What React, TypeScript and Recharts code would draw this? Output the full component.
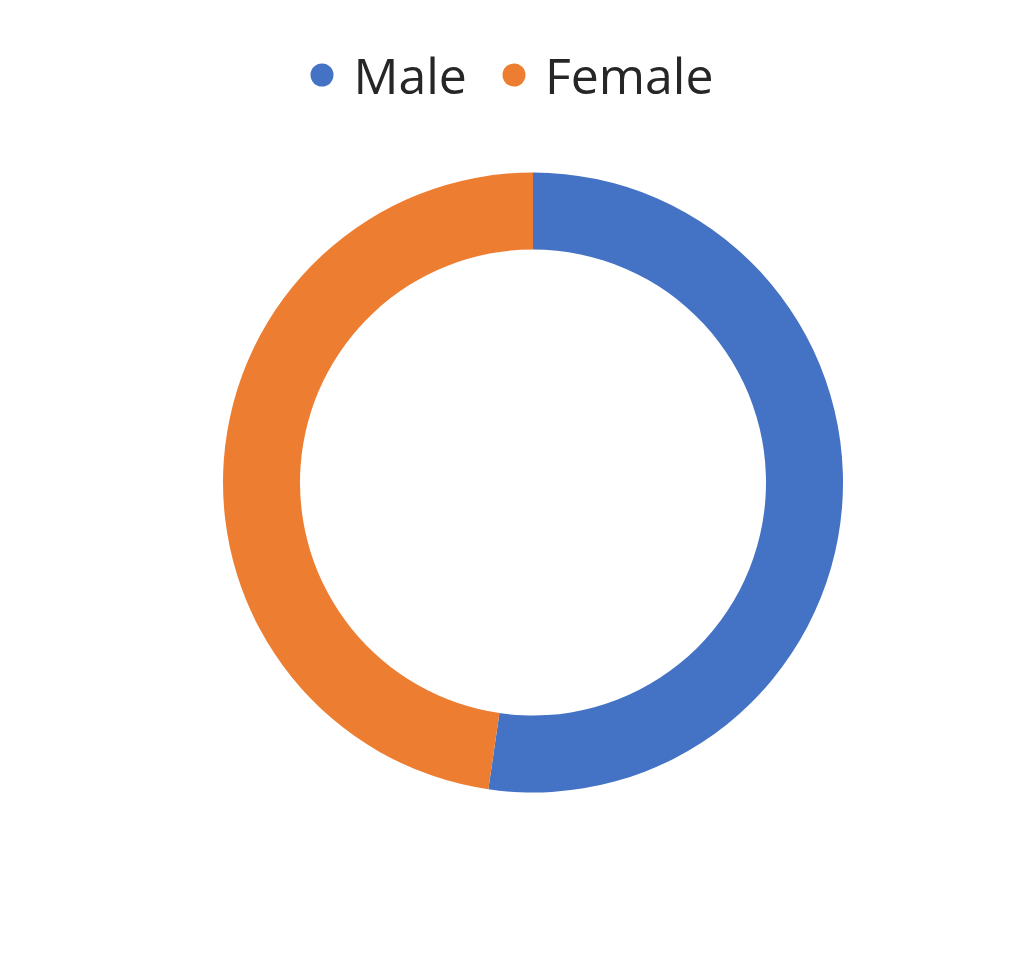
import React from "react";
import { PieChart, Pie, Cell, Legend } from "recharts";

const categories = ["Male", "Female"];
const values = [52.3, 47.7];
const colors = ["#4472C4", "#ED7D31"];

const data = categories.map((name, i) => ({ name, value: values[i] }));

const renderLegend = () => (
  <div
    style={{
      display: "flex",
      justifyContent: "center",
      alignItems: "center",
      fontFamily: "'Open Sans', sans-serif",
      fontSize: 50,
      color: "#262626",
      lineHeight: "70px",
    }}
  >
    {data.map((d, i) => (
      <div key={d.name} style={{ display: "flex", alignItems: "center", marginRight: i === 0 ? 35 : 0 }}>
        <svg width={24} height={24} style={{ marginRight: 19 }}>
          <circle cx={12} cy={12} r={11.5} fill={colors[i]} />
        </svg>
        <span>{d.name}</span>
      </div>
    ))}
  </div>
);

export default function App() {
  return (
    <div style={{ position: "absolute", left: 0, top: 0, background: "#fff" }}>
      <PieChart width={1024} height={956}>
        <Legend
          verticalAlign="top"
          content={renderLegend}
          wrapperStyle={{ position: "absolute", top: 40, left: 0, width: 1024 }}
        />
        <Pie
          data={data}
          dataKey="value"
          nameKey="name"
          cx={528}
          cy={407.5}
          innerRadius={233}
          outerRadius={310}
          startAngle={90}
          endAngle={-270}
          stroke="none"
          isAnimationActive={false}
        >
          {data.map((d, i) => (
            <Cell key={d.name} fill={colors[i]} />
          ))}
        </Pie>
      </PieChart>
    </div>
  );
}
